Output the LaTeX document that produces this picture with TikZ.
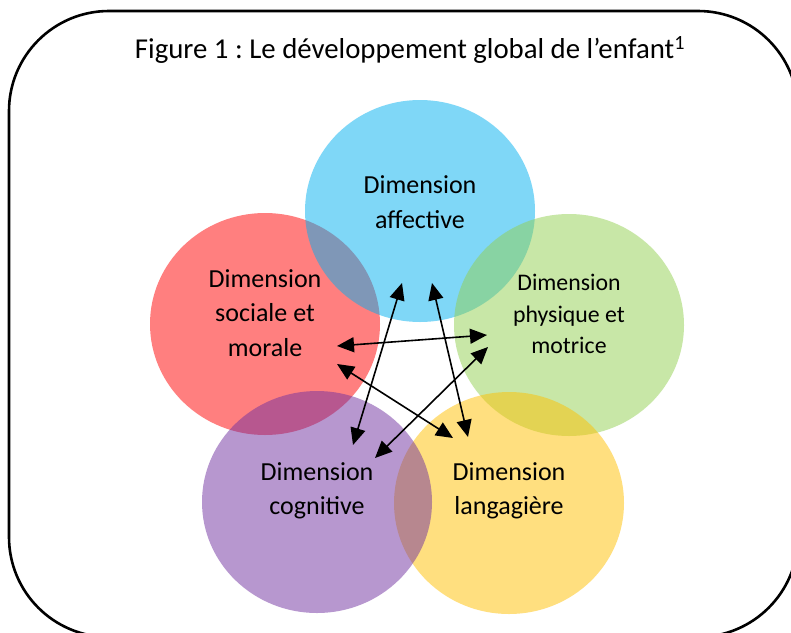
\documentclass[tikz,border=0pt]{standalone}
\usepackage{fontspec}
\setmainfont{Carlito}
\frenchspacing
\usetikzlibrary{shapes.geometric,arrows.meta}
\definecolor{cBlue}{RGB}{0,176,240}
\definecolor{cRed}{RGB}{255,0,0}
\definecolor{cGreen}{RGB}{146,208,80}
\definecolor{cPurple}{RGB}{112,48,160}
\definecolor{cYellow}{RGB}{255,192,0}
\tikzset{
  disc/.style={ellipse, minimum width=230pt, minimum height=222pt, draw=none, fill opacity=0.5, inner sep=0pt},
  lbl/.style={align=center, font=\fontsize{26}{34.5}\selectfont, text=black},
  lblsmall/.style={align=center, font=\fontsize{23.8}{31.5}\selectfont, text=black},
  link/.style={{Triangle[length=17pt,width=15pt]}-{Triangle[length=17pt,width=15pt]}, line width=1.6pt},
  frame/.style={line width=2.6pt, rounded corners=100pt}
}
\begin{document}
\begin{tikzpicture}[x=1pt,y=-1pt]
\useasboundingbox (0,0) rectangle (791,632);
\fill[white] (0,0) rectangle (791,632);
\begin{scope}
\clip (0,0) rectangle (791,632);
\draw[frame] (9,11) rectangle (798,637);
\end{scope}
\node[font=\fontsize{28.8}{32}\selectfont] (title) at (410,50) {Figure 1 : Le développement global de l’enfant\textsuperscript{1}};
% discs
\node[disc, fill=cRed] (soc) at (265,324) {};
\node[disc, fill=cBlue] (aff) at (420,211) {};
\node[disc, fill=cGreen] (phy) at (569,325) {};
\node[disc, fill=cYellow] (lang) at (509,503) {};
\node[disc, fill=cPurple] (cog) at (317,502) {};
% labels
\node[lbl] (affT) at (420,202) {Dimension\\affective};
\node[lbl] (socT) at (265,313) {Dimension\\sociale et\\morale};
\node[lblsmall] (phyT) at (569,314) {Dimension\\physique et\\motrice};
\node[lbl] (cogT) at (317,491) {Dimension\\cognitive};
\node[lbl] (langT) at (509,491) {Dimension\\langagière};
% arrow ends
\coordinate (a1) at (402,283); \coordinate (c1) at (353,445);
\coordinate (a2) at (432,283); \coordinate (l2) at (468,437);
\coordinate (s3) at (337,346); \coordinate (p3) at (487,335);
\coordinate (s4) at (337,364); \coordinate (l4) at (453,438);
\coordinate (p5) at (488,347); \coordinate (c5) at (375,458);
\draw[link] (a1) -- (c1);
\draw[link] (a2) -- (l2);
\draw[link] (s3) -- (p3);
\draw[link] (s4) -- (l4);
\draw[link] (p5) -- (c5);
\end{tikzpicture}
\end{document}
